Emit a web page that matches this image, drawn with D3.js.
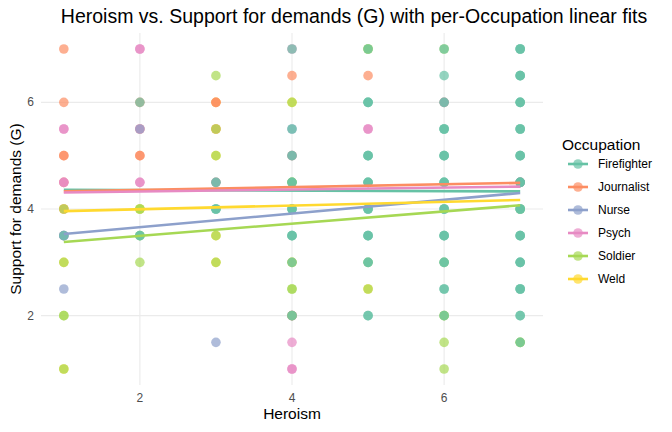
<!DOCTYPE html>
<html lang="en">
<head>
<meta charset="utf-8">
<title>Heroism vs. Support for demands</title>
<script src="https://d3js.org/d3.v7.min.js"></script>
<style>
  body { margin: 0; background: #fff; }
  svg text { font-family: "Liberation Sans", Arial, sans-serif; }
</style>
</head>
<body>
<div id="chart"></div>
<script>
// occupations and their colours (Set2)
var occupations = ["Firefighter", "Journalist", "Nurse", "Psych", "Soldier", "Weld"];
var colors = ["#66c2a5", "#fc8d62", "#8da0cb", "#e78ac3", "#a6d854", "#ffd92f"];

// responses per occupation: [heroism, support, count]
var firefighterPts = [[7,7,3],[7,6.5,3],[7,6,3],[7,5.5,3],[7,5,3],[7,4.5,3],[7,4,3],[7,3.5,3],[7,3,3],[7,2.5,3],[7,2,2],[7,1.5,1],
  [6,7,1],[6,6.5,1],[6,6,1],[6,5.5,3],[6,5,3],[6,4.5,3],[6,4,3],[6,3.5,3],[6,3,2],[6,2.5,2],[6,2,1],
  [5,7,1],[5,6,3],[5,5,3],[5,4.5,3],[5,4,3],[5,3.5,3],[5,3,2],[5,2,2],
  [4,7,1],[4,5.5,1],[4,5,1],[4,4.5,2],[4,4,3],[4,3.5,3],[4,3,1],[4,2,1],[3,4.5,1],[3,4,3],[2,6,1],[2,3.5,2],[1,3.5,1]];
var journalistPts = [[1,7,1],[1,6,1],[1,5,2],[1,4.5,1],[1,4,1],[2,6,1],[2,5,2],[2,5.5,1],[3,6,2],[3,5.5,1],[3,4.5,1],
  [4,6.5,1],[4,5,1],[4,2,1],[5,6.5,1],[6,6,1],[7,4.5,1]];
var nursePts = [[1,3.5,2],[1,2.5,1],[2,5.5,1],[3,1.5,1],[3,4.5,1],[4,5.5,1],[4,5,1],[4,2,1],[6,6,1],[7,4.5,1]];
var psychPts = [[1,5.5,2],[1,4.5,2],[1,3.5,1],[2,7,2],[2,5.5,1],[2,4.5,2],[4,7,1],[4,1.5,1],[4,1,2],[4,2,1],[5,5.5,2],[7,4.5,1]];
var soldierPts = [[1,4,1],[1,3,1],[1,2,2],[1,1,1],[2,4,2],[2,3.5,1],[2,3,1],[3,6.5,1],[3,5.5,1],[3,5,1],[3,3.5,1],[3,3,1],
  [4,6,1],[4,4.5,2],[4,3,1],[4,2.5,2],[4,2,1],[5,7,2],[5,3,1],[5,2.5,1],[6,7,1],[6,2,2],[6,1.5,1],[6,1,1],[6,3,1],[7,1.5,2],[7,4,1]];
var weldPts = [[1,4,1],[1,3,1],[1,1,1],[2,4,1],[3,6,1],[3,5.5,1],[3,5,1],[3,3.5,1],[3,3,1],[4,6,1],[4,3,1],[5,2.5,1]];
var pointSets = [firefighterPts, journalistPts, nursePts, psychPts, soldierPts, weldPts];
// order the groups are painted in (bottom first)
var drawOrder = ["Weld", "Journalist", "Psych", "Nurse", "Soldier", "Firefighter"];

// linear fit end points (value at x=1 and x=7)
var fitX = [1, 7];
var fitStart = [4.36, 4.33, 3.53, 4.31, 3.38, 3.96];
var fitEnd = [4.33, 4.49, 4.30, 4.42, 4.07, 4.17];

var xTicks = [2, 4, 6];
var yTicks = [2, 4, 6];

var w = 672, h = 432;
var margin = { top: 33, right: 129, bottom: 47, left: 41 };
var width = w - margin.left - margin.right, height = h - margin.top - margin.bottom;

var svg = d3.select("#chart").append("svg")
  .attr("width", w).attr("height", h);
var g = svg.append("g").attr("transform", `translate(${margin.left},${margin.top})`);

var x = d3.scaleLinear().domain([0.7, 7.3]).range([0, width]);
var y = d3.scaleLinear().domain([0.7, 7.3]).range([height, 0]);
var color = d3.scaleOrdinal().domain(occupations).range(colors);

// grid
g.selectAll("line.gx").data(xTicks).join("line")
  .attr("x1", d => x(d)).attr("x2", d => x(d))
  .attr("y1", 0).attr("y2", height)
  .attr("stroke", "#ebebeb").attr("stroke-width", 1.1);
g.selectAll("line.gy").data(yTicks).join("line")
  .attr("y1", d => y(d)).attr("y2", d => y(d))
  .attr("x1", 0).attr("x2", width)
  .attr("stroke", "#ebebeb").attr("stroke-width", 1.1);

// tick labels
g.selectAll("text.tx").data(xTicks).join("text")
  .attr("x", d => x(d)).attr("y", height + 17)
  .attr("text-anchor", "middle").attr("font-size", "12px").attr("fill", "#4d4d4d")
  .text(d => d);
g.selectAll("text.ty").data(yTicks).join("text")
  .attr("x", -7).attr("y", d => y(d) + 4)
  .attr("text-anchor", "end").attr("font-size", "12px").attr("fill", "#4d4d4d")
  .text(d => d);

// axis titles
svg.append("text").attr("x", margin.left + width / 2).attr("y", 419)
  .attr("text-anchor", "middle").attr("font-size", "15.5px").text("Heroism");
svg.append("text").attr("transform", `translate(21,${margin.top + height / 2}) rotate(-90)`)
  .attr("text-anchor", "middle").attr("font-size", "15.5px").text("Support for demands (G)");
svg.append("text").attr("x", 354).attr("y", 23)
  .attr("text-anchor", "middle").attr("font-size", "19.5px").text("Heroism vs. Support for demands (G) with per-Occupation linear fits");

// points, one circle per response
drawOrder.forEach(function (occ) {
  var i = occupations.indexOf(occ);
  var pts = pointSets[i].flatMap(d => d3.range(d[2]).map(() => d));
  g.append("g").selectAll("circle").data(pts).join("circle")
    .attr("cx", d => x(d[0])).attr("cy", d => y(d[1]))
    .attr("r", 4.8)
    .attr("fill", color(occ)).attr("fill-opacity", 0.7);
});

// fit lines
occupations.forEach(function (occ, i) {
  g.append("line")
    .attr("x1", x(fitX[0])).attr("y1", y(fitStart[i]))
    .attr("x2", x(fitX[1])).attr("y2", y(fitEnd[i]))
    .attr("stroke", color(occ)).attr("stroke-width", 2.6);
});

// legend
var legend = svg.append("g").attr("transform", "translate(562,0)");
legend.append("text").attr("x", 0).attr("y", 150).attr("font-size", "15.5px").text("Occupation");
var items = legend.selectAll("g.item").data(occupations).join("g")
  .attr("transform", (d, i) => `translate(0,${164 + i * 23})`);
items.append("line").attr("x1", 6).attr("x2", 26).attr("y1", 0).attr("y2", 0)
  .attr("stroke", d => color(d)).attr("stroke-width", 2.6);
items.append("circle").attr("cx", 16).attr("cy", 0).attr("r", 4.8)
  .attr("fill", d => color(d)).attr("fill-opacity", 0.7);
items.append("text").attr("x", 36).attr("y", 4).attr("font-size", "12px").text(d => d);
</script>
</body>
</html>
